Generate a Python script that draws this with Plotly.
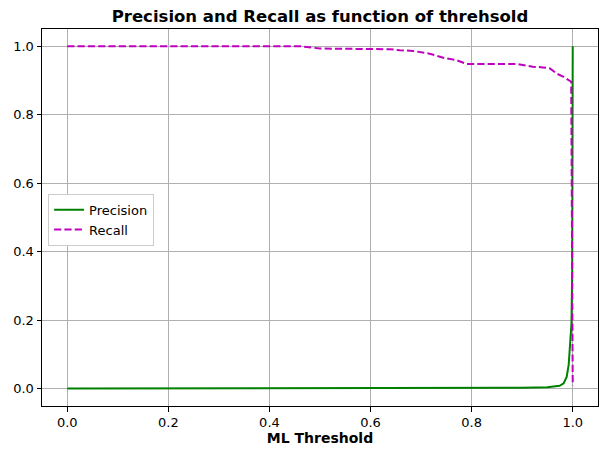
import plotly.graph_objects as go

# Precision curve
prec_thr = [0.0, 0.3, 0.6, 0.8, 0.9, 0.95, 0.974, 0.982, 0.988, 0.992, 0.994, 0.9975, 0.999, 0.9995, 1.0]
prec_val = [0.001, 0.0012, 0.0015, 0.002, 0.003, 0.005, 0.009, 0.016, 0.035, 0.07, 0.11, 0.19, 0.35, 0.55, 1.0]

# Recall curve
rec_thr = [0.0, 0.46, 0.50, 0.599, 0.638, 0.658, 0.684, 0.717, 0.747, 0.770, 0.790, 0.889,
           0.921, 0.941, 0.955, 0.968, 0.981, 0.997, 1.0]
rec_val = [1.0, 1.0, 0.993, 0.993, 0.991, 0.988, 0.986, 0.978, 0.965, 0.959, 0.948, 0.948,
           0.940, 0.938, 0.935, 0.920, 0.911, 0.896, 0.01]

ticks = [0.0, 0.2, 0.4, 0.6, 0.8, 1.0]
tick_text = ["0.0", "0.2", "0.4", "0.6", "0.8", "1.0"]

fig = go.Figure()
fig.add_trace(go.Scatter(x=prec_thr, y=prec_val, mode="lines", name="Precision",
                         line=dict(color="#008000", width=2)))
fig.add_trace(go.Scatter(x=rec_thr, y=rec_val, mode="lines", name="Recall",
                         line=dict(color="#bf00bf", width=2, dash="7.2px,3.1px")))

axis_common = dict(
    showline=True, mirror=True, linecolor="black", linewidth=1,
    showgrid=True, gridcolor="#b0b0b0", gridwidth=1,
    ticks="outside", ticklen=4.5, tickcolor="black", tickwidth=1,
    tickvals=ticks, ticktext=tick_text,
    tickfont=dict(family="DejaVu Sans", size=13, color="black"),
    zeroline=False,
)

fig.update_layout(
    width=600, height=449,
    margin=dict(l=42, r=2, t=29, b=43),
    paper_bgcolor="white", plot_bgcolor="white",
    title=dict(text="<b>Precision and Recall as function of threhsold</b>",
               font=dict(family="DejaVu Sans", size=16.5, color="black"),
               x=0.5 + (42 - 2) / 2 / 600, xanchor="center", y=1 - 16 / 449, yanchor="middle"),
    xaxis=dict(range=[-0.05, 1.05],
               title=dict(text="<b>ML Threshold</b>", font=dict(family="DejaVu Sans", size=14, color="black"), standoff=4),
               **axis_common),
    yaxis=dict(range=[-0.05, 1.05], **axis_common),
    legend=dict(x=0.011, y=0.563, xanchor="left", yanchor="top",
                bgcolor="white", bordercolor="#cccccc", borderwidth=1,
                tracegroupgap=0,
                font=dict(family="DejaVu Sans", size=13, color="black")),
    showlegend=True,
)

fig.write_html("out.html")
